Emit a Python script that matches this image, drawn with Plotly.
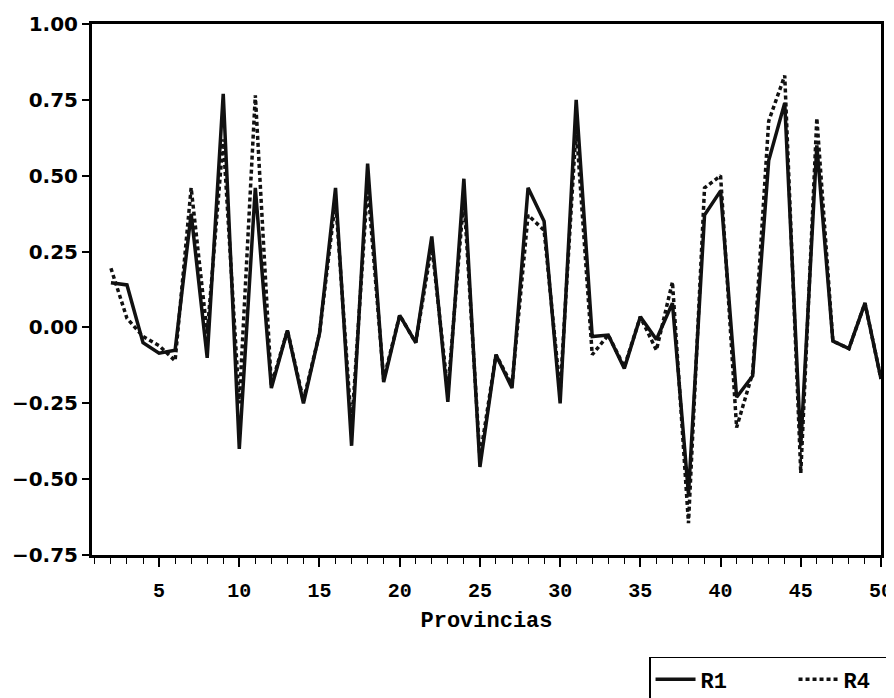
import plotly.graph_objects as go

provincias = list(range(2, 51))
r1 = [0.147, 0.14, -0.05, -0.085, -0.075, 0.375, -0.10, 0.77, -0.40, 0.46,
      -0.20, -0.01, -0.25, -0.02, 0.46, -0.39, 0.54, -0.18, 0.04, -0.05,
      0.30, -0.245, 0.49, -0.46, -0.09, -0.20, 0.46, 0.35, -0.25, 0.75,
      -0.03, -0.025, -0.135, 0.035, -0.04, 0.08, -0.55, 0.37, 0.45, -0.23,
      -0.16, 0.55, 0.74, -0.39, 0.60, -0.045, -0.07, 0.08, -0.17]
r4 = [0.195, 0.03, -0.03, -0.06, -0.11, 0.46, -0.02, 0.62, -0.25, 0.765,
      -0.19, -0.01, -0.24, -0.02, 0.42, -0.33, 0.47, -0.17, 0.04, -0.05,
      0.27, -0.21, 0.43, -0.43, -0.09, -0.19, 0.37, 0.32, -0.21, 0.66,
      -0.09, -0.025, -0.13, 0.035, -0.075, 0.15, -0.645, 0.46, 0.50, -0.33,
      -0.15, 0.68, 0.83, -0.48, 0.69, -0.045, -0.07, 0.08, -0.17]
x_ticks = [5, 10, 15, 20, 25, 30, 35, 40, 45, 50]
y_ticks = [-0.75, -0.5, -0.25, 0.0, 0.25, 0.5, 0.75, 1.0]

fig = go.Figure()
fig.add_trace(go.Scatter(x=provincias, y=r1, mode="lines", name="R1",
                         line=dict(color="#111111", width=3.5)))
fig.add_trace(go.Scatter(x=provincias, y=r4, mode="lines", name="R4",
                         line=dict(color="#111111", width=3.5, dash="4px,3px")))

fig.update_layout(
    width=886, height=690,
    margin=dict(l=84, r=13, t=16, b=143, autoexpand=False),
    paper_bgcolor="white", plot_bgcolor="white",
    showlegend=True,
    legend=dict(orientation="h", x=0.706, y=-0.192, xanchor="left", yanchor="top",
                bordercolor="black", borderwidth=1.5, bgcolor="white",
                entrywidth=88, entrywidthmode="pixels",
                font=dict(family="Liberation Mono", size=22, color="black", weight="bold"),
                itemwidth=40, tracegroupgap=0),
)
fig.update_xaxes(
    range=[0.82, 50], tickvals=x_ticks, ticks="outside", ticklen=9, tickwidth=1.5,
    tickcolor="black", ticklabelstandoff=6,
    minor=dict(dtick=1, tick0=0, ticks="outside", ticklen=6, tickwidth=1.2, tickcolor="black"),
    showline=True, mirror=True, linewidth=3, linecolor="black",
    showgrid=False, zeroline=False,
    tickfont=dict(family="Liberation Mono", size=20, color="black", weight="bold"),
    title=dict(text="Provincias", standoff=10,
               font=dict(family="Liberation Mono", size=22, color="black", weight="bold")),
)
fig.update_yaxes(
    range=[-0.75, 1.0], tickvals=y_ticks, tickformat=".2f", ticks="outside",
    ticklen=7, tickwidth=1.5, tickcolor="black",
    showline=True, mirror=True, linewidth=3, linecolor="black",
    showgrid=False, zeroline=False,
    tickfont=dict(family="DejaVu Sans", size=20, color="black", weight="bold"),
)
fig.write_html("out.html")
